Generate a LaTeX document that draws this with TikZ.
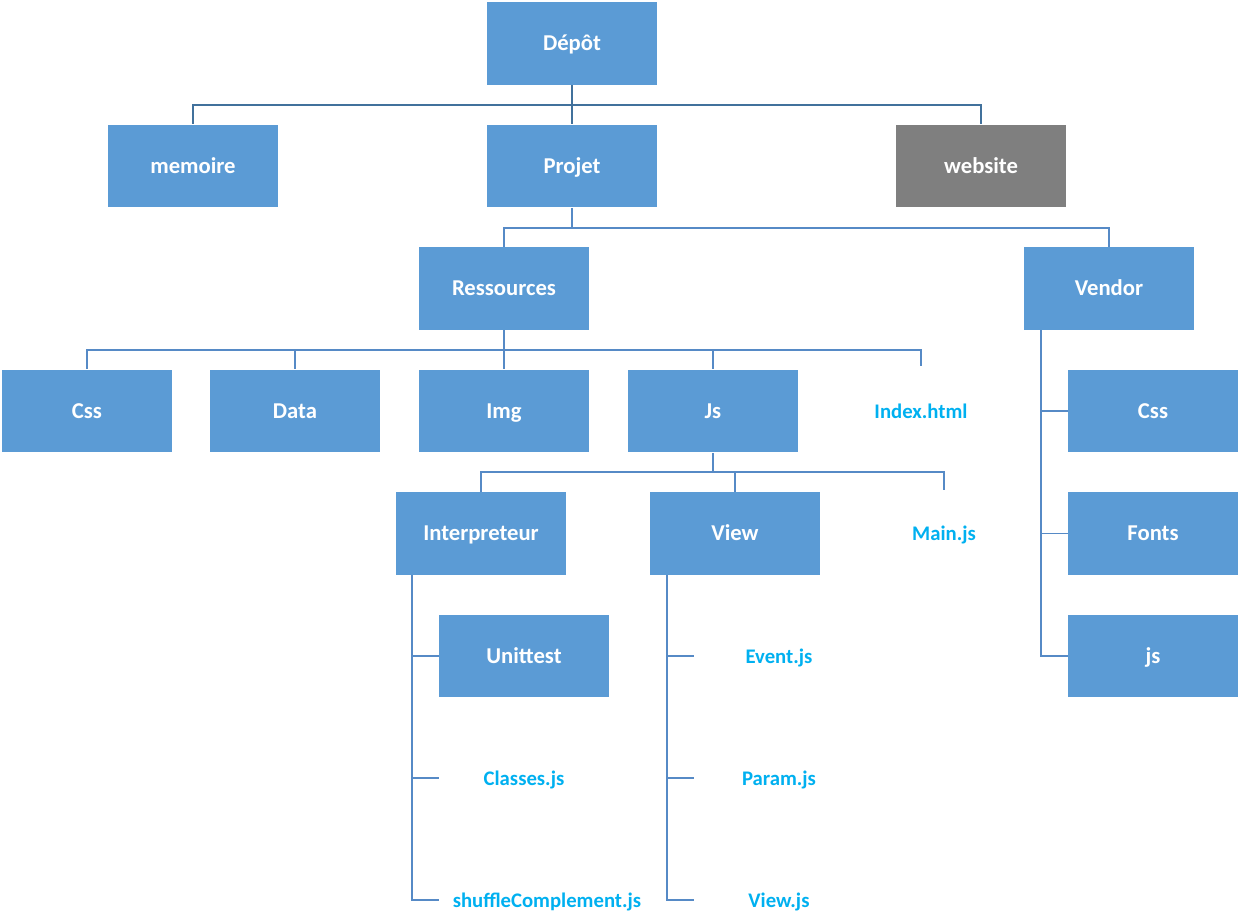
\documentclass[tikz,border=0pt]{standalone}
\usepackage{fontspec}
\setmainfont{Carlito}
\usepackage{xcolor}
\definecolor{boxblue}{RGB}{91,155,213}
\definecolor{boxgrey}{RGB}{127,127,127}
\definecolor{filecyan}{RGB}{0,176,240}
\definecolor{linedark}{RGB}{65,113,156}
\definecolor{linelight}{RGB}{86,138,198}
\tikzset{
  folder/.style={rectangle,fill=boxblue,text=white,minimum width=3.4cm,minimum height=1.66cm,
    inner sep=0pt,text height=0.82em,text depth=0pt,font=\fontsize{12.9}{15}\selectfont\bfseries},
  file/.style={rectangle,text=filecyan,minimum width=3.4cm,minimum height=1.66cm,
    inner xsep=0.26cm,inner ysep=0pt,text height=0.82em,text depth=0pt,
    font=\fontsize{11.8}{14}\selectfont\bfseries},
  top/.style={draw=linedark,line width=1.1pt},
  link/.style={draw=linelight,line width=1.1pt}
}
\begin{document}
\begin{tikzpicture}[x=0.02cm,y=-0.02cm]
\useasboundingbox (0,0) rectangle (1240,911);
  \node[folder] (depot) at (572,43.5) {Dépôt};
  \node[folder] (memoire) at (193,166) {memoire};
  \node[folder] (projet) at (572,166) {Projet};
  \node[folder,fill=boxgrey] (website) at (981,166) {website};
  \node[folder] (ressources) at (504,288.5) {Ressources};
  \node[folder] (vendor) at (1109,288.5) {Vendor};
  \node[folder] (css) at (87,411) {Css};
  \node[folder] (data) at (295,411) {Data};
  \node[folder] (img) at (504,411) {Img};
  \node[folder] (js) at (713,411) {Js};
  \node[file] (index) at (921,411) {Index.html};
  \node[folder] (vcss) at (1153,411) {Css};
  \node[folder] (vfonts) at (1153,533.5) {Fonts};
  \node[folder] (vjs) at (1153,656) {js};
  \node[folder] (interp) at (481,533.5) {Interpreteur};
  \node[folder] (view) at (735,533.5) {View};
  \node[file] (mainjs) at (944,533.5) {Main.js};
  \node[folder] (unittest) at (524,656) {Unittest};
  \node[file] (classes) at (524,778) {Classes.js};
  \node[file] (shuffle) at (547,900) {shuffleComplement.js};
  \node[file] (event) at (779,656) {Event.js};
  \node[file] (param) at (779,778) {Param.js};
  \node[file] (viewjs) at (779,900) {View.js};
% top level
\draw[top] (depot.south) -- (projet.north);
\draw[top] (depot.south) ++(0,19.5) -| (memoire.north);
\draw[top] (depot.south) ++(0,19.5) -| (website.north);
% projet
\draw[link] (projet.south) ++(0,20) -| (ressources.north);
\draw[link] (projet.south) -- ++(0,20) -| (vendor.north);
% ressources
\draw[link] (ressources.south) ++(0,20) -| (css.north);
\draw[link] (ressources.south) ++(0,20) -| (data.north);
\draw[link] (ressources.south) -- (img.north);
\draw[link] (ressources.south) ++(0,20) -| (js.north);
\draw[link] (ressources.south) ++(0,20) -| ([yshift=0.06cm]index.north);
% js
\draw[link] (js.south) -- ++(0,19.5) -| (interp.north);
\draw[link] (js.south) ++(0,19.5) -| (view.north);
\draw[link] (js.south) ++(0,19.5) -| ([yshift=0.04cm]mainjs.north);
% vendor
\draw[link] (vendor.south west) ++(17,0) |- (vcss.west);
\draw[link] (vendor.south west) ++(17,0) |- (vfonts.west);
\draw[link] (vendor.south west) ++(17,0) |- (vjs.west);
% interpreteur
\draw[link] (interp.south west) ++(16,0) |- (unittest.west);
\draw[link] (interp.south west) ++(16,0) |- (classes.west);
\draw[link] (interp.south west) ++(16,0) |- (shuffle.west);
% view
\draw[link] (view.south west) ++(17,0) |- (event.west);
\draw[link] (view.south west) ++(17,0) |- (param.west);
\draw[link] (view.south west) ++(17,0) |- (viewjs.west);
\end{tikzpicture}
\end{document}
